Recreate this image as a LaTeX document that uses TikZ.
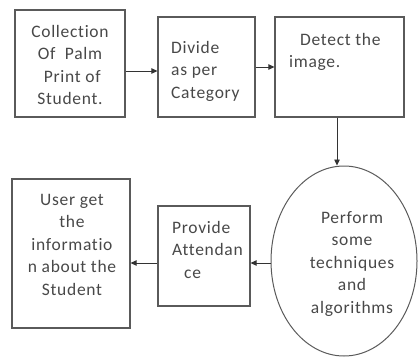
\documentclass[tikz,border=0pt]{standalone}
\usepackage{fontspec}
\setmainfont{Carlito}[LetterSpace=4, Ligatures=NoCommon]
\usetikzlibrary{arrows.meta,shapes.geometric}
\definecolor{edgegray}{HTML}{5A5A5A}
\definecolor{inkgray}{HTML}{484848}
\tikzset{
  stepbox/.style={draw=edgegray, line width=1.2pt, rectangle, inner sep=0pt},
  roundstep/.style={draw=edgegray, line width=1.0pt, ellipse, inner sep=0pt},
  label text/.style={inner sep=0pt, text=inkgray,
    font=\fontsize{17.5}{22.5}\selectfont},
  flow/.style={draw=black!80, line width=0.8pt,
    -{Triangle[length=6pt,width=5.5pt]}},
}
\begin{document}
\begin{tikzpicture}[x=1pt, y=-1pt]
  \useasboundingbox (0,0) rectangle (419,358);

  % process boxes
  \node[stepbox, minimum width=110pt, minimum height=107pt] (b1) at (70,63.5) {};
  \node[stepbox, minimum width=97pt,  minimum height=100pt] (b2) at (206.5,67) {};
  \node[stepbox, minimum width=129pt, minimum height=100pt] (b3) at (339.5,67) {};
  \node[roundstep, minimum width=146pt, minimum height=190pt] (b4) at (344,261) {};
  \node[stepbox, minimum width=92pt,  minimum height=100pt] (b5) at (204,256) {};
  \node[stepbox, minimum width=118pt, minimum height=149pt] (b6) at (71,253.5) {};

  % texts
  \node[label text, align=center, anchor=north] (t1) at (70,25)
    {Collection\\Of~~Palm\\~Print of\\Student.};
  \node[label text, align=left, anchor=north west] (t2) at (171,41)
    {Divide\\as per\\Category};
  \node[label text, align=left, anchor=north west] (t3) at (289,33)
    {\hspace*{11pt}Detect the\\image.};
  \node[label text, align=center, anchor=north] (t4) at (352,211)
    {Perform\\some\\techniques\\and\\algorithms};
  \node[label text, align=left, anchor=north west] (t5) at (172,221)
    {Provide\\Attendan\\\hspace*{12pt}ce};
  \node[label text, align=center, anchor=north] (t6) at (72,194)
    {User get\\the\\informatio\\n about the\\Student~};

  % connectors
  \draw[flow] (b1.east |- 0,71) -- (b2.west |- 0,71);
  \draw[flow] (b2.east) -- (b3.west);
  \draw[flow] (b3.south -| 337,0) -- (b4.north -| 337,0);
  \draw[flow] (b4.west |- 0,263) -- (b5.east |- 0,263);
  \draw[flow] (b5.west |- 0,263) -- (b6.east |- 0,263);
\end{tikzpicture}
\end{document}
